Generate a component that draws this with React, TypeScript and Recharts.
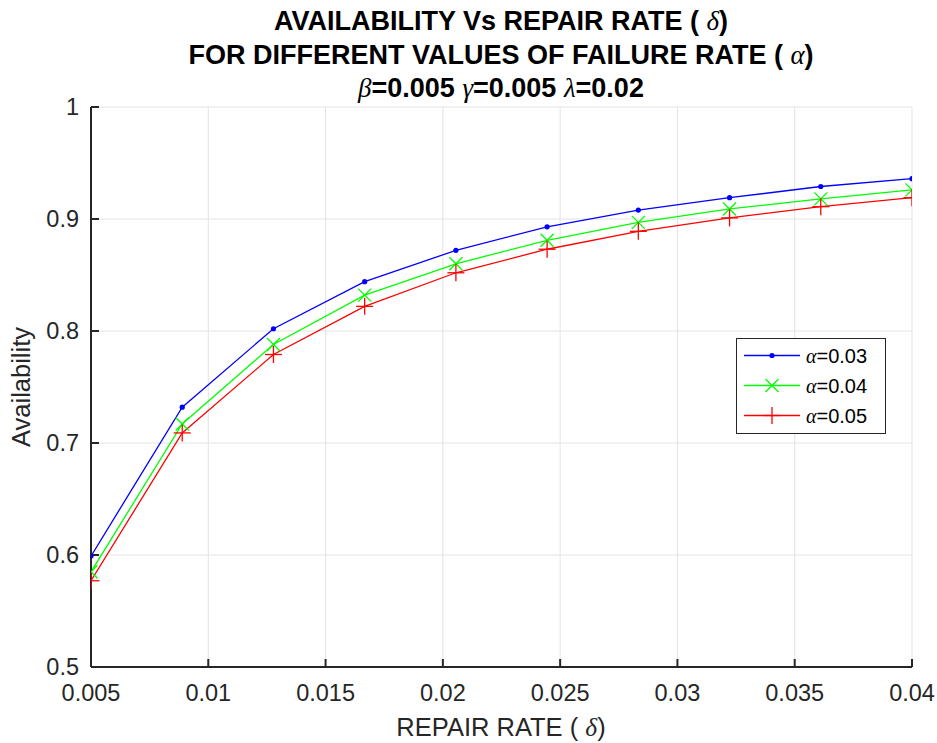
import React from "react";
import {
  LineChart,
  Line,
  XAxis,
  YAxis,
  CartesianGrid,
  Legend,
} from "recharts";

// repair rate delta (x) and availability for each failure rate alpha
const repairRate = [0.005, 0.008889, 0.012778, 0.016667, 0.020556, 0.024444, 0.028333, 0.032222, 0.036111, 0.04];
const availAlpha003 = [0.599, 0.732, 0.802, 0.844, 0.872, 0.893, 0.908, 0.919, 0.929, 0.936];
const availAlpha004 = [0.585, 0.717, 0.788, 0.832, 0.86, 0.881, 0.897, 0.909, 0.918, 0.926];
const availAlpha005 = [0.577, 0.709, 0.779, 0.822, 0.852, 0.873, 0.889, 0.901, 0.911, 0.919];

const xTicks = [0.005, 0.01, 0.015, 0.02, 0.025, 0.03, 0.035, 0.04];
const yTicks = [0.5, 0.6, 0.7, 0.8, 0.9, 1];

const data = repairRate.map((d, i) => ({
  d,
  a1: availAlpha003[i],
  a2: availAlpha004[i],
  a3: availAlpha005[i],
}));

const SANS = "'Liberation Sans', Arial, Helvetica, sans-serif";
const SERIF = "'Liberation Serif', 'Times New Roman', serif";
const AXIS = "#262626";

const DotMarker = (props: any) => {
  const { cx, cy } = props;
  if (cx == null || cy == null) return null;
  return <circle cx={cx} cy={cy} r={2.6} fill="#0000ff" />;
};

const CrossMarker = (props: any) => {
  const { cx, cy } = props;
  if (cx == null || cy == null) return null;
  const s = 6.5;
  return (
    <g stroke="#00ff00" strokeWidth={1.3}>
      <line x1={cx - s} y1={cy - s} x2={cx + s} y2={cy + s} />
      <line x1={cx - s} y1={cy + s} x2={cx + s} y2={cy - s} />
    </g>
  );
};

const PlusMarker = (props: any) => {
  const { cx, cy } = props;
  if (cx == null || cy == null) return null;
  const s = 8.5;
  return (
    <g stroke="#ff0000" strokeWidth={1.3}>
      <line x1={cx - s} y1={cy} x2={cx + s} y2={cy} />
      <line x1={cx} y1={cy - s} x2={cx} y2={cy + s} />
    </g>
  );
};

const Greek = ({ children }: { children: React.ReactNode }) => (
  <tspan fontFamily={SERIF} fontStyle="italic" fontWeight="normal">
    {children}
  </tspan>
);

const legendItems = [
  { label: "=0.03", color: "#0000ff", Marker: DotMarker },
  { label: "=0.04", color: "#00ff00", Marker: CrossMarker },
  { label: "=0.05", color: "#ff0000", Marker: PlusMarker },
];

const renderLegend = () => (
  <svg width={151} height={97} style={{ display: "block" }}>
    <rect x={0.5} y={0.5} width={149} height={95} fill="#fff" stroke={AXIS} strokeWidth={1} />
    {legendItems.map((it, i) => {
      const y = 17.5 + i * 30;
      const M = it.Marker;
      return (
        <g key={i}>
          <line x1={8} y1={y} x2={64} y2={y} stroke={it.color} strokeWidth={1.3} />
          <M cx={36} cy={y} />
          <text x={70} y={y + 7} fontSize={20} fontFamily={SANS} fill="#000">
            <Greek>α</Greek>
            {it.label}
          </text>
        </g>
      );
    })}
  </svg>
);

export default function App() {
  return (
    <div style={{ position: "absolute", left: 0, top: 0, background: "#fff" }}>
      <LineChart
        width={937}
        height={743}
        data={data}
        margin={{ top: 107, right: 25, bottom: 36, left: 0 }}
        style={{ fontFamily: SANS }}
      >
        <CartesianGrid stroke="#e3e3e3" strokeWidth={1} />
        <XAxis
          dataKey="d"
          type="number"
          domain={[0.005, 0.04]}
          ticks={xTicks}
          height={40}
          allowDataOverflow
          stroke={AXIS}
          strokeWidth={2}
          tickSize={-8}
          tickMargin={25}
          tick={{ fill: AXIS, fontSize: 23.5, fontFamily: SANS }}
          tickFormatter={(v: number) => String(v)}
        />
        <XAxis
          xAxisId="top"
          dataKey="d"
          type="number"
          orientation="top"
          domain={[0.005, 0.04]}
          ticks={xTicks}
          height={0}
          stroke={AXIS}
          strokeWidth={2}
          tickSize={-8}
          tick={false}
        />
        <YAxis
          type="number"
          domain={[0.5, 1]}
          ticks={yTicks}
          width={91}
          stroke={AXIS}
          strokeWidth={2}
          tickSize={-8}
          tickMargin={20}
          tick={{ fill: AXIS, fontSize: 23.5, fontFamily: SANS }}
          tickFormatter={(v: number) => String(v)}
        />
        <YAxis
          yAxisId="right"
          type="number"
          orientation="right"
          domain={[0.5, 1]}
          ticks={yTicks}
          width={0}
          stroke={AXIS}
          strokeWidth={2}
          tickSize={-8}
          tick={false}
        />
        <Line
          dataKey="a1"
          stroke="#0000ff"
          strokeWidth={1.3}
          dot={<DotMarker />}
          isAnimationActive={false}
        />
        <Line
          dataKey="a2"
          stroke="#00ff00"
          strokeWidth={1.3}
          dot={<CrossMarker />}
          isAnimationActive={false}
        />
        <Line
          dataKey="a3"
          stroke="#ff0000"
          strokeWidth={1.3}
          dot={<PlusMarker />}
          isAnimationActive={false}
        />
        <Legend
          layout="horizontal"
          verticalAlign="middle"
          align="center"
          content={renderLegend}
          wrapperStyle={{ left: 736, top: 338, width: 151, height: 97 }}
        />

        {/* titles */}
        <g fontFamily={SANS} fontWeight="bold" fontSize={27} fill="#000" textAnchor="middle">
          <text x={501} y={30}>
            AVAILABILITY Vs REPAIR RATE ( <Greek>δ</Greek>)
          </text>
          <text x={501} y={64}>
            FOR DIFFERENT VALUES OF FAILURE RATE ( <Greek>α</Greek>)
          </text>
          <text x={501} y={97}>
            <Greek>β</Greek>=0.005 <Greek>γ</Greek>=0.005 <Greek>λ</Greek>=0.02
          </text>
        </g>
        <text x={501} y={736} textAnchor="middle" fontSize={25.5} fontFamily={SANS} fill={AXIS}>
          REPAIR RATE ( <Greek>δ</Greek>)
        </text>
        <text
          x={30}
          y={387}
          textAnchor="middle"
          fontSize={25.5}
          fontFamily={SANS}
          fill={AXIS}
          transform="rotate(-90 30 387)"
        >
          Availability
        </text>
      </LineChart>
    </div>
  );
}
